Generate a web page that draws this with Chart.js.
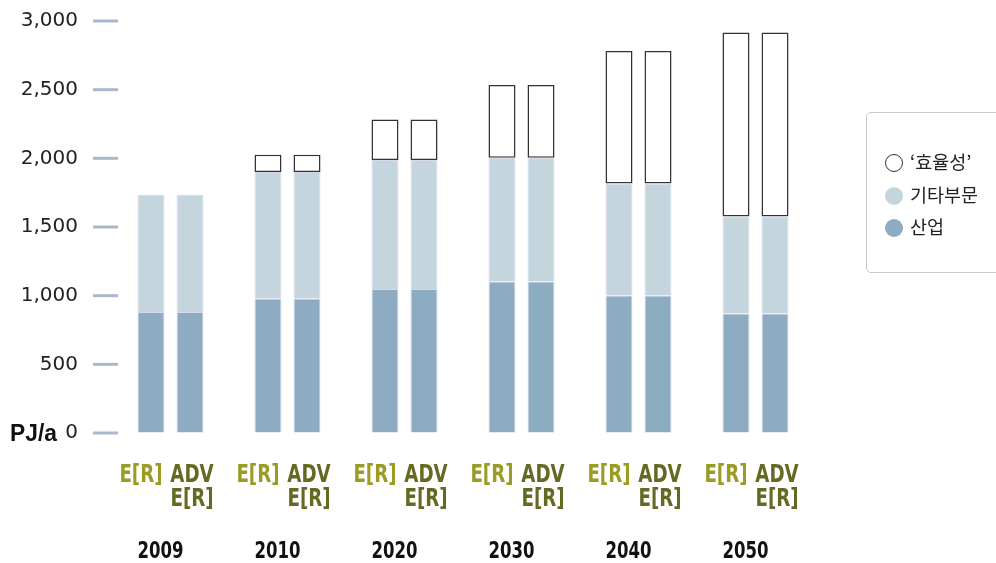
<!DOCTYPE html>
<html>
<head>
<meta charset="utf-8">
<script src="https://cdn.jsdelivr.net/npm/chart.js@4"></script>
<style>
  body { margin: 0; background: #fff; }
  #wrap { position: relative; width: 996px; height: 563px; }
  #legend {
    position: absolute; left: 866px; top: 112px; width: 150px; height: 161px;
    border: 1px solid #c9c9c9; border-radius: 5px; box-sizing: border-box;
    font-family: "Noto Sans CJK KR", "Noto Sans", sans-serif; font-size: 18.5px; color: #222;
  }
  #legend .item { position: absolute; left: 18px; height: 22px; line-height: 22px; white-space: nowrap; }
  #legend .dot { display: inline-block; width: 18px; height: 18px; border-radius: 50%; box-sizing: border-box; vertical-align: -3px; margin-right: 7px; }
</style>
</head>
<body>
<div id="wrap">
  <canvas id="myBarChart" width="996" height="563"></canvas>
  <div id="legend"></div>
</div>
<script>
// 연도 / 시나리오
const years = ['2009', '2010', '2020', '2030', '2040', '2050'];
const scenarioLabels = ['E[R]', 'ADV E[R]'];

// PJ/a 값
const industryER = [881, 980, 1049, 1104, 1002, 871];
const otherER = [854, 920, 939, 901, 815, 706];
const efficiencyER = [null, 126, 294, 529, 965, 1340];

const industryADV = [881, 980, 1049, 1104, 1002, 871];
const otherADV = [854, 920, 939, 901, 815, 706];
const efficiencyADV = [null, 126, 294, 529, 965, 1340];

const yTicks = [0, 500, 1000, 1500, 2000, 2500, 3000];

const seriesNames = ['산업', '기타부문', '‘효율성’'];
const colors = {
    industry: '#8eacc1',
    other: '#c5d5dd',
    efficiency: '#ffffff'
};

// 범례
var legend = document.getElementById('legend');
var legendItems = [
    { name: seriesNames[2], bg: '#fff', border: '1.5px solid #333' },
    { name: seriesNames[1], bg: colors.other, border: 'none' },
    { name: seriesNames[0], bg: colors.industry, border: 'none' }
];
legendItems.forEach(function (it, i) {
    var d = document.createElement('div');
    d.className = 'item';
    d.style.top = (37 + i * 32.5) + 'px';
    d.innerHTML = '<span class="dot" style="background:' + it.bg + ';border:' + it.border + '"></span>' + it.name;
    legend.appendChild(d);
});

// 좁은 글꼴 흉내 (가로 압축)
function narrowText(ctx, text, x, y, sx) {
    ctx.save();
    ctx.translate(x, y);
    ctx.scale(sx, 1);
    ctx.fillText(text, 0, 0);
    ctx.restore();
}

// 축 눈금, x축 라벨
const decor = {
    id: 'decor',
    afterDraw(chart) {
        const ctx = chart.ctx;
        const area = chart.chartArea;
        const y = chart.scales.y;
        ctx.save();
        ctx.strokeStyle = '#a9b8cb';
        ctx.lineWidth = 3;
        yTicks.forEach(function (v) {
            var py = y.getPixelForValue(v);
            ctx.beginPath();
            ctx.moveTo(area.left - 19, py);
            ctx.lineTo(area.left + 6, py);
            ctx.stroke();
        });

        ctx.fillStyle = '#111';
        ctx.font = 'bold 24px "Liberation Sans", sans-serif';
        ctx.textAlign = 'right';
        ctx.textBaseline = 'middle';
        narrowText(ctx, 'PJ/a', 57, y.getPixelForValue(0) + 1, 0.95);

        ctx.textAlign = 'center';
        years.forEach(function (yr, i) {
            var erBar = chart.getDatasetMeta(0).data[i];
            var advBar = chart.getDatasetMeta(3).data[i];
            ctx.font = 'bold 24px "DejaVu Sans", sans-serif';
            ctx.fillStyle = '#9a9c24';
            narrowText(ctx, 'E[R]', erBar.x - 10, 476, 0.76);
            ctx.fillStyle = '#656a23';
            narrowText(ctx, 'ADV', advBar.x + 2, 476, 0.76);
            narrowText(ctx, 'E[R]', advBar.x + 2, 500, 0.76);
            ctx.fillStyle = '#111';
            ctx.font = 'bold 23px "DejaVu Sans", sans-serif';
            narrowText(ctx, yr, (erBar.x + advBar.x) / 2 - 10, 552, 0.72);
        });
        ctx.restore();
    }
};

function ds(label, data, stack, color, isEff) {
    return {
        label: label,
        data: data,
        stack: stack,
        backgroundColor: color,
        borderColor: isEff ? '#333333' : '#d8d8ec',
        borderWidth: isEff ? 1.5 : 1,
        borderSkipped: isEff ? false : 'start',
        barPercentage: 0.692,
        categoryPercentage: 0.667
    };
}

var ctx = document.getElementById('myBarChart').getContext('2d');
var myBarChart = new Chart(ctx, {
    type: 'bar',
    data: {
        labels: years,
        datasets: [
            ds(seriesNames[0], industryER, scenarioLabels[0], colors.industry, false),
            ds(seriesNames[1], otherER, scenarioLabels[0], colors.other, false),
            ds(seriesNames[2], efficiencyER, scenarioLabels[0], colors.efficiency, true),
            ds(seriesNames[0], industryADV, scenarioLabels[1], colors.industry, false),
            ds(seriesNames[1], otherADV, scenarioLabels[1], colors.other, false),
            ds(seriesNames[2], efficiencyADV, scenarioLabels[1], colors.efficiency, true)
        ]
    },
    options: {
        responsive: false,
        animation: false,
        layout: { padding: { top: 21, bottom: 130, right: 182, left: 0 } },
        plugins: {
            legend: { display: false },
            tooltip: { enabled: false }
        },
        scales: {
            x: {
                display: false,
                stacked: true
            },
            y: {
                stacked: true,
                min: 0,
                max: 3000,
                afterBuildTicks: function (s) { s.ticks = yTicks.map(function (v) { return { value: v }; }); },
                ticks: {
                    padding: 4,
                    color: '#222',
                    font: { family: 'DejaVu Sans', size: 20 }
                },
                grid: { display: true, drawOnChartArea: false, drawTicks: true, tickLength: 30, color: 'rgba(0,0,0,0)' },
                border: { display: false },
                afterFit: function (s) { s.width = 112; }
            }
        }
    },
    plugins: [decor]
});
</script>
</body>
</html>
